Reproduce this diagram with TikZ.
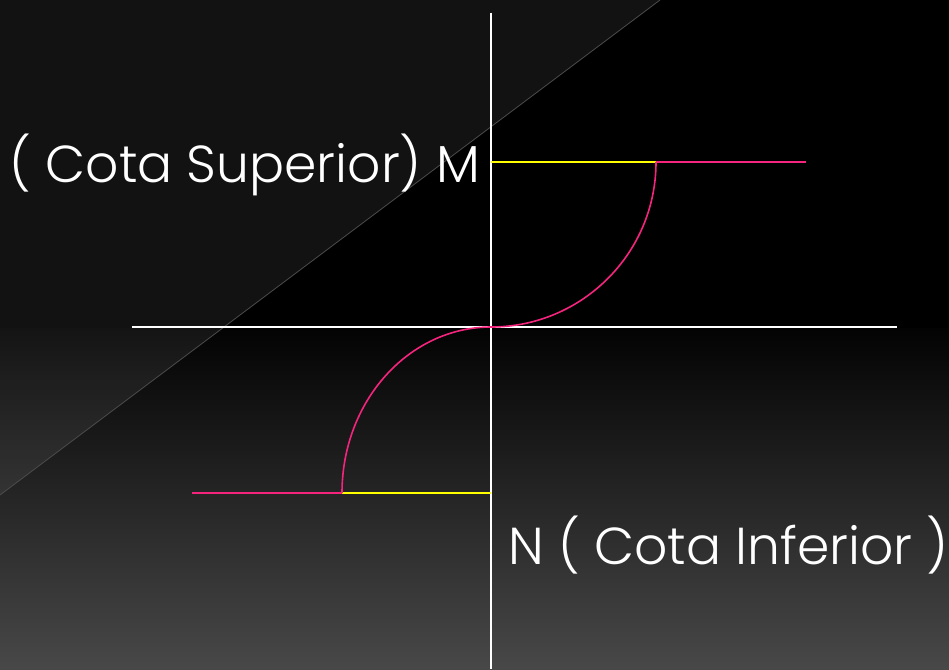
\documentclass[tikz,border=0pt]{standalone}
\usepackage{fontspec}
\setmainfont{Poppins}[UprightFont=* Light]
\definecolor{pinkc}{HTML}{F5247D}
\definecolor{yelc}{HTML}{FFFF00}
\definecolor{bottomgray}{HTML}{484848}
\definecolor{centergray}{HTML}{1C1C1C}
\definecolor{midgray}{HTML}{030303}
\tikzset{
  axis/.style={draw=white, line width=1.4pt},
  pinkline/.style={draw=pinkc, line width=1.6pt},
  yelline/.style={draw=yelc, line width=1.6pt},
  label/.style={text=white, font=\fontsize{52}{60}\selectfont, inner sep=0pt}
}
\begin{document}
\begin{tikzpicture}[x=1pt,y=-1pt]
\useasboundingbox (0,0) rectangle (949,669);
% background
\fill[black] (0,0) rectangle (949,669);
\shade[top color=midgray, middle color=centergray, bottom color=bottomgray] (0,328) rectangle (949,669);
\fill[white, opacity=0.07] (0,0) -- (660,0) -- (0,495) -- cycle;
\draw[gray!60!black, line width=0.8pt] (660,0) -- (0,495);
% coordinates
\coordinate (vtop) at (491,13);
\coordinate (vbot) at (491,669);
\coordinate (hleft) at (132,327);
\coordinate (hright) at (897,327);
\coordinate (O) at (491,327);
\coordinate (Mstart) at (491,162);
\coordinate (Mcorner) at (656,162);
\coordinate (Mend) at (806,162);
\coordinate (Nstart) at (491,493);
\coordinate (Ncorner) at (342,493);
\coordinate (Nend) at (192,493);
% axes
\draw[axis] (vtop) -- (vbot);
\draw[axis] (hleft) -- (hright);
% upper
\draw[yelline] (Mstart) -- (Mcorner);
\draw[pinkline] (Mcorner) -- (Mend);
\draw[pinkline] (Mcorner) arc[start angle=0, end angle=90, x radius=165, y radius=165];
% lower
\draw[yelline] (Nstart) -- (Ncorner);
\draw[pinkline] (Ncorner) -- (Nend);
\draw[pinkline] (Ncorner) arc[start angle=180, end angle=270, x radius=149, y radius=166];
% labels
\node[label, anchor=base east] (M) at (480,182) {( Cota Superior) M};
\node[label, anchor=base west] (N) at (508,564) {N ( Cota Inferior )};
\end{tikzpicture}
\end{document}
